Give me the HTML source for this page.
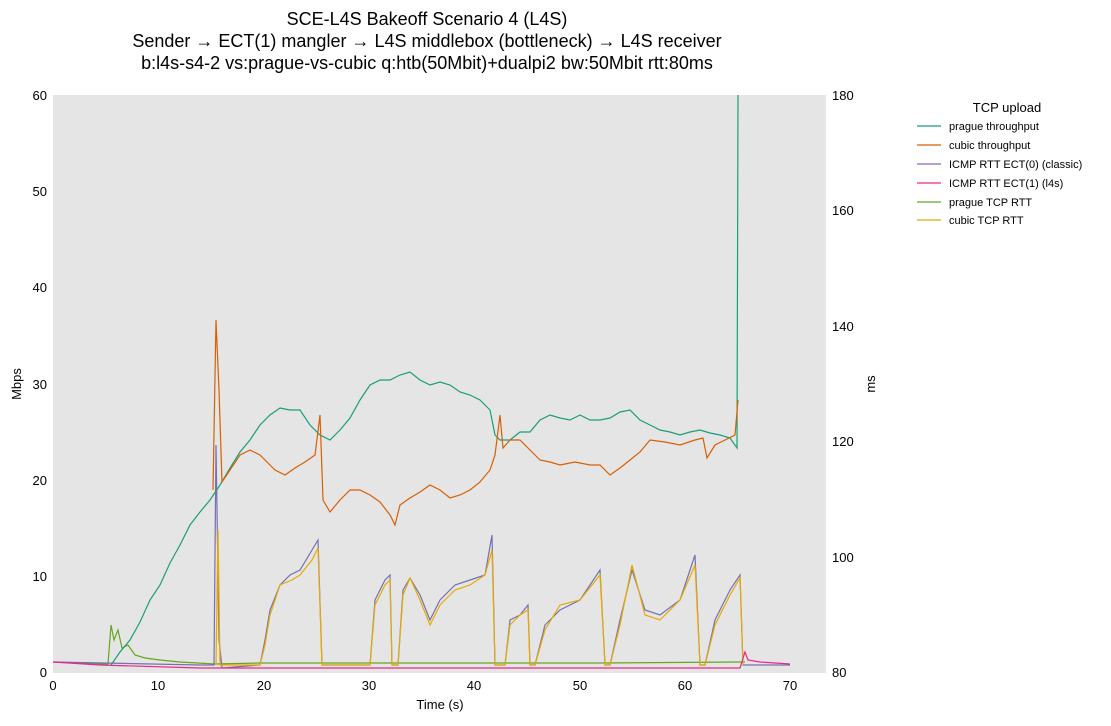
<!DOCTYPE html>
<html><head><meta charset="utf-8"><style>
body{margin:0;background:#fff;}
svg text{font-family:"Liberation Sans","DejaVu Sans",sans-serif;}
</style></head><body>
<svg width="1111" height="721" xmlns="http://www.w3.org/2000/svg">
<rect width="1111" height="721" fill="#fff"/>
<text x="427" y="25" font-size="18" text-anchor="middle">SCE-L4S Bakeoff Scenario 4 (L4S)</text>
<text x="427" y="47" font-size="18" text-anchor="middle">Sender → ECT(1) mangler → L4S middlebox (bottleneck) → L4S receiver</text>
<text x="427" y="69" font-size="18" text-anchor="middle">b:l4s-s4-2 vs:prague-vs-cubic q:htb(50Mbit)+dualpi2 bw:50Mbit rtt:80ms</text>
<rect x="53" y="95" width="773" height="578" fill="#e5e5e5"/>
<g font-size="13" text-anchor="end">
<text x="47" y="677">0</text><text x="47" y="581">10</text><text x="47" y="485">20</text><text x="47" y="389">30</text><text x="47" y="292">40</text><text x="47" y="196">50</text><text x="47" y="100">60</text>
</g>
<g font-size="13" text-anchor="start">
<text x="832" y="677">80</text><text x="832" y="562">100</text><text x="832" y="446">120</text><text x="832" y="331">140</text><text x="832" y="215">160</text><text x="832" y="100">180</text>
</g>
<g font-size="13" text-anchor="middle">
<text x="53" y="690">0</text><text x="158" y="690">10</text><text x="264" y="690">20</text><text x="369" y="690">30</text><text x="474" y="690">40</text><text x="580" y="690">50</text><text x="685" y="690">60</text><text x="790" y="690">70</text>
<text x="440" y="709">Time (s)</text>
</g>
<text x="21" y="384" font-size="13" text-anchor="middle" transform="rotate(-90 21 384)">Mbps</text>
<text x="875" y="384" font-size="13" text-anchor="middle" transform="rotate(-90 875 384)">ms</text>
<g fill="none" stroke-width="1.2">
<polyline stroke="#66a61e" points="53,662 100,664 108,664 111,625 114,640 118,630 122,648 128,645 135,655 145,658 160,660 180,662 215,664 260,663 400,663 600,663 740,662 745,662"/>
<polyline stroke="#7570b3" points="53,662 200,665 214,665 216,445 219,640 222,668 260,665 265,640 270,610 280,585 290,575 300,570 312,550 318,540 322,665 370,665 375,600 385,580 390,575 392,665 398,665 403,590 410,578 420,595 430,620 440,600 455,585 470,580 485,575 492,535 495,665 505,665 510,620 520,615 528,605 530,665 535,665 545,625 560,610 580,600 600,570 605,665 610,665 620,620 632,570 645,610 660,615 680,600 695,555 700,665 705,665 715,620 730,590 740,575 743,665 790,665"/>
<polyline stroke="#e6ab02" points="216,665 218,530 220,665 260,665 265,645 270,615 280,585 292,580 300,575 312,560 318,548 322,665 370,665 375,605 385,585 390,580 392,665 398,665 403,595 410,578 420,600 430,625 440,605 455,590 470,585 485,575 492,550 495,665 505,665 510,625 520,615 528,610 530,665 535,665 545,630 560,605 580,600 600,575 605,665 610,665 620,625 632,565 645,615 660,620 680,600 695,565 700,665 705,665 715,625 730,595 740,578 743,665"/>
<polyline stroke="#e7298a" points="53,662 100,665 200,668 400,668 600,668 740,668 745,652 748,660 760,662 790,664"/>
<polyline stroke="#1b9e77" points="111,665 120,652 130,640 140,622 150,600 160,585 170,563 180,545 190,525 200,512 210,500 220,485 230,468 240,452 250,440 260,425 270,415 280,408 290,410 300,410 310,425 320,435 330,440 340,430 350,418 360,400 370,385 380,380 390,380 400,375 410,372 420,380 430,385 440,382 450,385 460,392 470,395 480,400 490,410 495,435 500,440 510,440 520,432 530,432 540,420 550,415 560,418 570,420 580,415 590,420 600,420 610,418 620,412 630,410 640,420 650,425 660,430 670,432 680,435 690,432 700,430 710,433 720,435 730,438 737,448 738,95"/>
<polyline stroke="#d95f02" points="213,490 216,320 219,390 222,482 230,470 240,455 250,450 260,455 265,460 275,470 285,475 295,468 305,462 315,455 320,415 323,500 330,512 340,500 350,490 360,490 370,495 380,502 390,515 395,525 400,505 410,498 420,492 430,485 440,490 450,498 460,495 470,490 480,482 490,470 495,455 500,415 503,448 510,440 520,440 530,450 540,460 550,462 560,465 575,462 590,465 600,465 610,475 620,468 630,460 640,452 650,440 665,442 680,445 695,440 703,438 707,458 715,445 725,440 735,435 738,400"/>
</g>
<text x="1007" y="112" font-size="13" text-anchor="middle">TCP upload</text>
<g font-size="11" stroke-width="1.2">
<line x1="917" y1="126" x2="941" y2="126" stroke="#1b9e77"/><text x="949" y="130">prague throughput</text>
<line x1="917" y1="145" x2="941" y2="145" stroke="#d95f02"/><text x="949" y="149">cubic throughput</text>
<line x1="917" y1="164" x2="941" y2="164" stroke="#7570b3"/><text x="949" y="168">ICMP RTT ECT(0) (classic)</text>
<line x1="917" y1="183" x2="941" y2="183" stroke="#e7298a"/><text x="949" y="187">ICMP RTT ECT(1) (l4s)</text>
<line x1="917" y1="202" x2="941" y2="202" stroke="#66a61e"/><text x="949" y="206">prague TCP RTT</text>
<line x1="917" y1="220" x2="941" y2="220" stroke="#e6ab02"/><text x="949" y="224">cubic TCP RTT</text>
</g>
</svg>
</body></html>
